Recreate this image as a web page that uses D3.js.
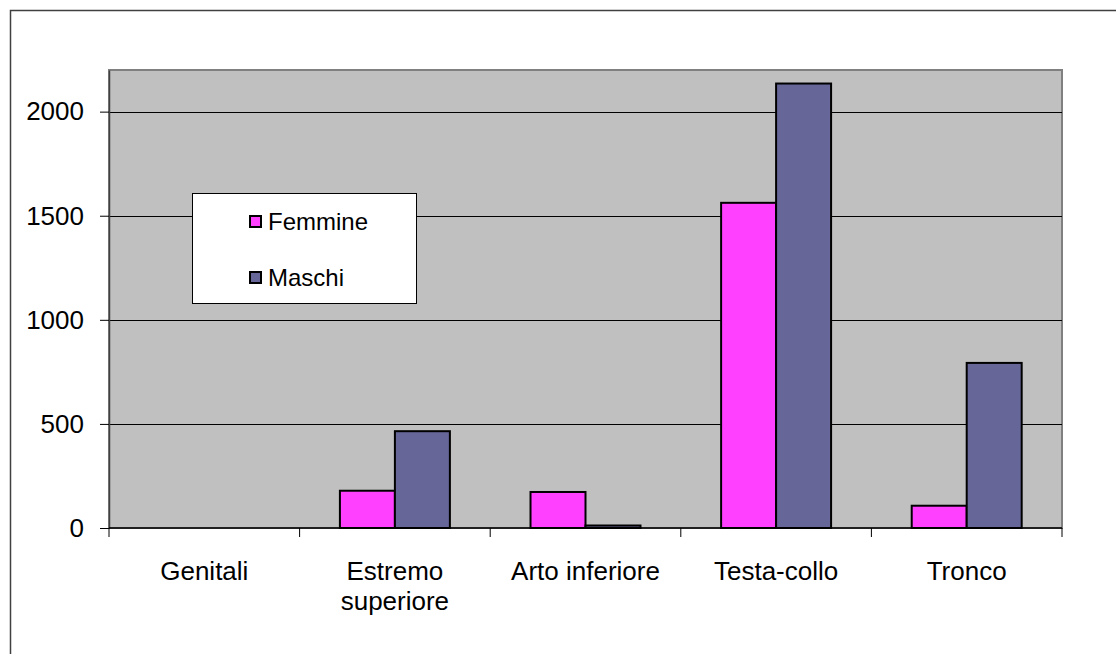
<!DOCTYPE html>
<html><head><meta charset="utf-8">
<script src="https://cdn.jsdelivr.net/npm/d3@7"></script>
<style>body{margin:0;background:#fff}svg{display:block;font-family:"Liberation Sans",Arial,sans-serif}</style>
</head><body>
<svg id="c" width="1116" height="654"></svg>
<script>
const categories = [["Genitali"], ["Estremo", "superiore"], ["Arto inferiore"], ["Testa-collo"], ["Tronco"]];
const seriesNames = ["Femmine", "Maschi"];
const femmine = [0, 179, 173, 1562, 107];
const maschi = [0, 465, 12, 2135, 793];
const yTicks = [0, 500, 1000, 1500, 2000];
const colors = ["#FF40FF", "#666699"];

const svg = d3.select("#c");
const L = 109, R = 1062, T = 70, B = 528;

// outer chart border
svg.append("rect").attr("x", 10.5).attr("y", 10.5).attr("width", 1200).attr("height", 700)
  .attr("fill", "#fff").attr("stroke", "#404040").attr("stroke-width", 1.5);

const x = d3.scaleBand().domain(d3.range(categories.length)).range([L, R]).padding(0);
const groupFrac = 0.577;
const xs = d3.scaleBand().domain(seriesNames)
  .range([x.bandwidth() * (1 - groupFrac) / 2, x.bandwidth() * (1 + groupFrac) / 2]).padding(0);
const y = d3.scaleLinear().domain([0, 2200]).range([B, T]);

// plot area
svg.append("rect").attr("x", L).attr("y", T).attr("width", R - L).attr("height", B - T)
  .attr("fill", "#C0C0C0").attr("stroke", "#808080").attr("stroke-width", 2);

// gridlines
svg.append("g").selectAll("line").data(yTicks.filter(d => d > 0)).join("line")
  .attr("x1", L).attr("x2", R).attr("y1", d => Math.round(y(d)) + 0.5).attr("y2", d => Math.round(y(d)) + 0.5)
  .attr("stroke", "#000").attr("stroke-width", 1);

// bars
const data = categories.map((c, i) => [femmine[i], maschi[i]]);
const g = svg.append("g");
data.forEach((vals, i) => {
  vals.forEach((v, j) => {
    if (v <= 0) return;
    g.append("rect")
      .attr("x", x(i) + xs(seriesNames[j]))
      .attr("y", y(v))
      .attr("width", xs.bandwidth())
      .attr("height", B - y(v))
      .attr("fill", colors[j]).attr("stroke", "#000").attr("stroke-width", 2);
  });
});

// y axis
const yAxis = d3.axisLeft(y).tickValues(yTicks).tickSizeInner(9).tickSizeOuter(0).tickPadding(16).tickFormat(d3.format("d"));
const ya = svg.append("g").attr("transform", `translate(${L},0)`).call(yAxis);
ya.select(".domain").attr("stroke", "#404040").attr("stroke-width", 1.5);
ya.selectAll(".tick line").attr("stroke", "#000");
ya.selectAll("text").attr("font-size", 26).attr("fill", "#000").attr("font-family", "Liberation Sans, Arial, sans-serif");

// x axis baseline and ticks
svg.append("line").attr("x1", L).attr("x2", R).attr("y1", B).attr("y2", B).attr("stroke", "#000").attr("stroke-width", 1.5);
const bounds = d3.range(categories.length + 1).map(i => i < categories.length ? x(i) : R);
svg.append("g").selectAll("line").data(bounds).join("line")
  .attr("x1", d => d).attr("x2", d => d).attr("y1", B).attr("y2", B + 9)
  .attr("stroke", "#000").attr("stroke-width", 1);

// category labels
const cl = svg.append("g").selectAll("text").data(categories).join("text")
  .attr("x", (d, i) => x(i) + x.bandwidth() / 2).attr("y", 580)
  .attr("text-anchor", "middle").attr("font-size", 26).attr("fill", "#000");
cl.each(function(lines) {
  d3.select(this).selectAll("tspan").data(lines).join("tspan")
    .attr("x", d3.select(this).attr("x")).attr("dy", (d, k) => k === 0 ? 0 : 30).text(d => d);
});

// legend
const lg = svg.append("g");
lg.append("rect").attr("x", 192.5).attr("y", 193.5).attr("width", 224).attr("height", 110)
  .attr("fill", "#fff").attr("stroke", "#000").attr("stroke-width", 1);
seriesNames.forEach((s, j) => {
  const cy = 221 + j * 56;
  lg.append("rect").attr("x", 250).attr("y", cy - 5).attr("width", 11).attr("height", 11)
    .attr("fill", colors[j]).attr("stroke", "#000").attr("stroke-width", 2);
  lg.append("text").attr("x", 268).attr("y", cy + 8.5).attr("font-size", 24).attr("fill", "#000").text(s);
});
</script>
</body></html>
